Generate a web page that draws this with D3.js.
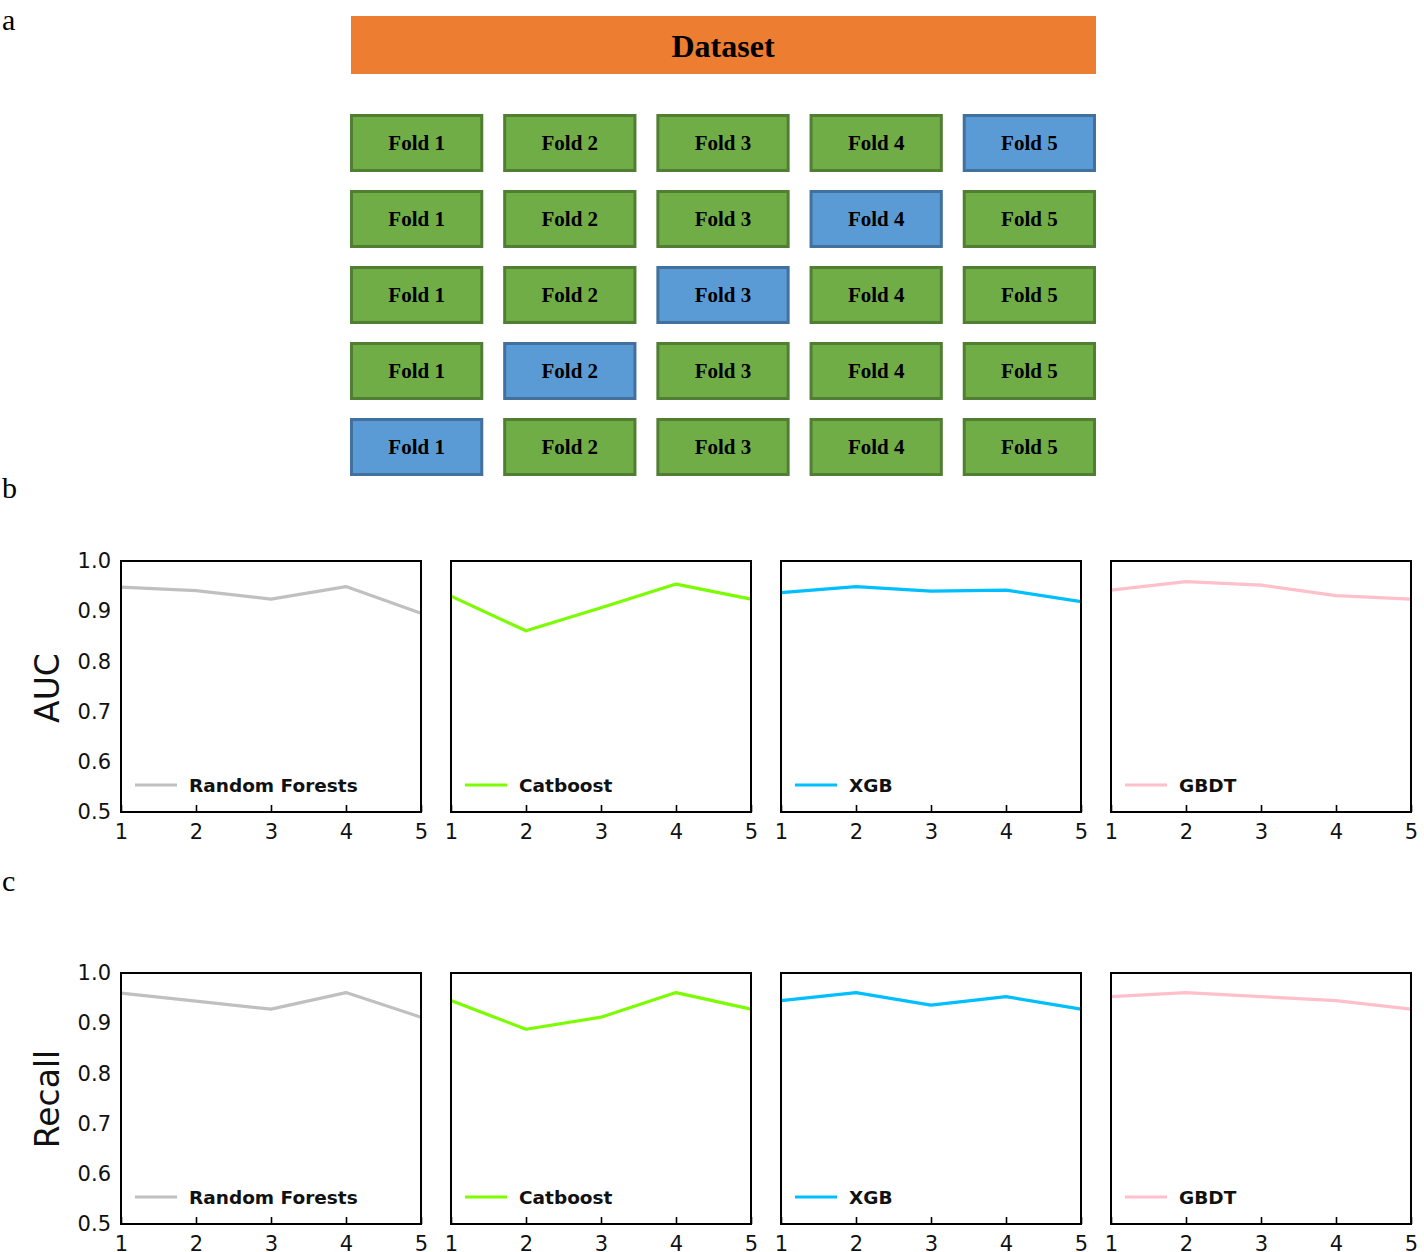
<!DOCTYPE html>
<html><head><meta charset="utf-8">
<script src="https://cdn.jsdelivr.net/npm/d3@7"></script>
<style>body{margin:0;background:#fff}svg{display:block}</style>
</head><body>
<script>
// ---------- data ----------
const folds = ["Fold 1","Fold 2","Fold 3","Fold 4","Fold 5"];
const testFoldPerRow = [5,4,3,2,1];            // blue (held-out) fold per row
const foldIndex = [1,2,3,4,5];
const models = ["Random Forests","Catboost","XGB","GBDT"];
const modelColors = ["#c0c0c0","#7cfc00","#00bfff","#ffc0cb"];
const aucRF   = [0.948,0.941,0.924,0.949,0.896];
const aucCat  = [0.930,0.861,0.907,0.954,0.924];
const aucXGB  = [0.937,0.949,0.940,0.942,0.919];
const aucGBDT = [0.942,0.959,0.952,0.931,0.924];
const recRF   = [0.960,0.944,0.928,0.961,0.912];
const recCat  = [0.945,0.888,0.912,0.961,0.928];
const recXGB  = [0.945,0.961,0.936,0.953,0.928];
const recGBDT = [0.953,0.961,0.953,0.945,0.928];
const yTicks = [0.5,0.6,0.7,0.8,0.9,1.0];
const xTicks = [1,2,3,4,5];

const W=1424,H=1252;
const svg=d3.select("body").append("svg").attr("width",W).attr("height",H);
const serif="'Liberation Serif','Times New Roman',serif";
const sans="'DejaVu Sans',sans-serif";

// panel letters
[["a",30],["b",498],["c",891]].forEach(([t,y])=>{
  svg.append("text").attr("x",2).attr("y",y).text(t)
    .attr("font-family",serif).attr("font-size",30).attr("fill","#000");
});

// ---------- panel a ----------
const gA=svg.append("g");
const xa=d3.scaleBand().domain(d3.range(5)).range([350,1096]).paddingInner(0.13).paddingOuter(0);
const ya=d3.scaleBand().domain(d3.range(5)).range([114,476]).paddingInner(0.237).paddingOuter(0);
gA.append("rect").attr("x",351).attr("y",16).attr("width",745).attr("height",58).attr("fill","#ed7d31");
gA.append("text").attr("x",723).attr("y",57).attr("text-anchor","middle")
  .attr("font-family",serif).attr("font-weight","bold").attr("font-size",32).text("Dataset");
testFoldPerRow.forEach((tf,r)=>{
  folds.forEach((f,c)=>{
    const blue=(c+1)===tf;
    gA.append("rect").attr("x",xa(c)+1.5).attr("y",ya(r)+1.5)
      .attr("width",xa.bandwidth()-3).attr("height",ya.bandwidth()-3)
      .attr("fill",blue?"#5b9bd5":"#70ad47")
      .attr("stroke",blue?"#41719c":"#507e32").attr("stroke-width",3);
    gA.append("text").attr("x",xa(c)+xa.bandwidth()/2).attr("y",ya(r)+ya.bandwidth()/2+7)
      .attr("text-anchor","middle").attr("font-family",serif).attr("font-weight","bold")
      .attr("font-size",21).text(f);
  });
});

// ---------- panels b & c ----------
const panelX=[121,451,781,1111], pw=300;
function drawRow(top, bottom, series, label, labelY){
  const y=d3.scaleLinear().domain([0.5,1.0]).range([bottom,top]);
  series.forEach((vals,i)=>{
    const x=d3.scaleLinear().domain([1,5]).range([panelX[i],panelX[i]+pw]);
    const g=svg.append("g");
    g.append("path").datum(vals)
      .attr("d",d3.line().x((d,j)=>x(foldIndex[j])).y(d=>y(d)))
      .attr("fill","none").attr("stroke",modelColors[i]).attr("stroke-width",3.2)
      .attr("stroke-linejoin","round");
    const xa=g.append("g").attr("transform",`translate(0,${bottom})`)
      .call(d3.axisBottom(x).tickValues(xTicks).tickSize(-7).tickFormat(d3.format("d")));
    xa.select(".domain").remove();
    xa.selectAll("line").attr("stroke","#000").attr("stroke-width",1.6);
    xa.selectAll("text").attr("font-family",sans).attr("font-size",21).attr("fill","#111").attr("dy","0.75em").attr("y",11);
    if(i===0){
      const ya=g.append("g").attr("transform",`translate(${panelX[i]},0)`)
        .call(d3.axisLeft(y).tickValues(yTicks).tickSize(0).tickPadding(10).tickFormat(d3.format(".1f")));
      ya.select(".domain").remove();
      ya.selectAll("text").attr("font-family",sans).attr("font-size",21).attr("fill","#111");
    }
    g.append("rect").attr("x",panelX[i]).attr("y",top).attr("width",pw).attr("height",bottom-top)
      .attr("fill","none").attr("stroke","#000").attr("stroke-width",2);
    const ly=bottom-27;
    g.append("line").attr("x1",panelX[i]+14).attr("x2",panelX[i]+56).attr("y1",ly).attr("y2",ly)
      .attr("stroke",modelColors[i]).attr("stroke-width",3.2);
    g.append("text").attr("x",panelX[i]+68).attr("y",ly+6.5).text(models[i])
      .attr("font-family",sans).attr("font-weight","bold").attr("font-size",18.5).attr("fill","#111");
  });
  svg.append("text").attr("transform",`translate(59,${labelY}) rotate(-90)`)
    .attr("text-anchor","middle").attr("font-family",sans).attr("font-size",33).attr("fill","#111").text(label);
}
drawRow(561,812,[aucRF,aucCat,aucXGB,aucGBDT],"AUC",688);
drawRow(973,1224,[recRF,recCat,recXGB,recGBDT],"Recall",1099);
</script>
</body></html>
